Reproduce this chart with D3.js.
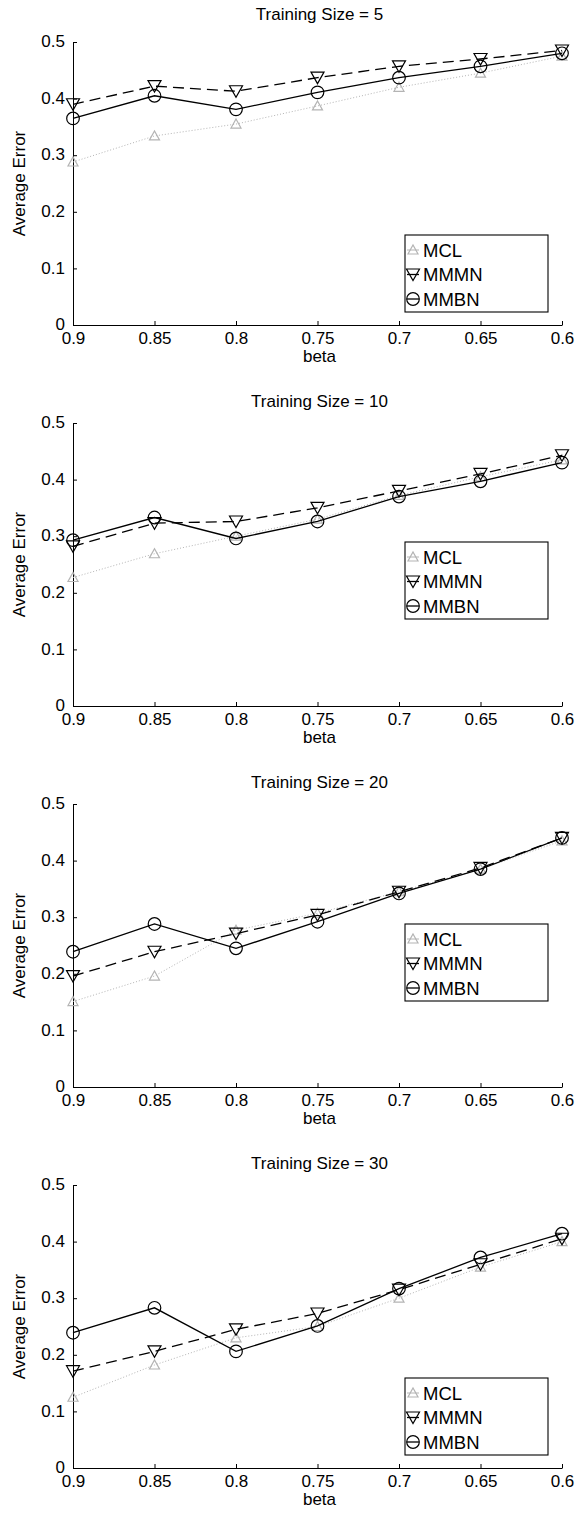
<!DOCTYPE html>
<html>
<head>
<meta charset="utf-8">
<script src="https://cdn.jsdelivr.net/npm/d3@7"></script>
<style>
  body { margin: 0; background: #fff; }
  text { font-family: "Liberation Sans", Arial, Helvetica, sans-serif; fill: #000; }
  .axis path, .axis line { stroke: #000; stroke-width: 1; }
  .axis text { font-size: 17px; }
</style>
</head>
<body>
<script>
// data
var betas = [0.9, 0.85, 0.8, 0.75, 0.7, 0.65, 0.6];
var betaLabels = ["0.9", "0.85", "0.8", "0.75", "0.7", "0.65", "0.6"];
var yTicks = [0, 0.1, 0.2, 0.3, 0.4, 0.5];
var yTickLabels = ["0", "0.1", "0.2", "0.3", "0.4", "0.5"];
var trainingSizes = [5, 10, 20, 30];
var seriesNames = ["MCL", "MMMN", "MMBN"];

var mclErr = [
  [0.288, 0.334, 0.355, 0.387, 0.420, 0.445, 0.475],
  [0.227, 0.269, 0.300, 0.330, 0.372, 0.405, 0.435],
  [0.151, 0.196, 0.277, 0.307, 0.345, 0.385, 0.435],
  [0.125, 0.182, 0.230, 0.250, 0.300, 0.355, 0.400]
];
var mmmnErr = [
  [0.390, 0.422, 0.413, 0.437, 0.457, 0.470, 0.485],
  [0.282, 0.323, 0.326, 0.350, 0.380, 0.410, 0.443],
  [0.196, 0.239, 0.271, 0.304, 0.345, 0.387, 0.440],
  [0.171, 0.206, 0.245, 0.273, 0.315, 0.360, 0.405]
];
var mmbnErr = [
  [0.365, 0.405, 0.381, 0.411, 0.437, 0.457, 0.480],
  [0.293, 0.333, 0.296, 0.326, 0.370, 0.397, 0.430],
  [0.239, 0.288, 0.245, 0.292, 0.342, 0.385, 0.440],
  [0.239, 0.283, 0.206, 0.251, 0.317, 0.372, 0.414]
];

//
// layout
//
var W = 577, H = 1514;
var left = 73, right = 562;
var plotH = 283;
var panelStep = 381;
var firstTop = 42;
var legendTopPx = [193, 119, 120, 193];
var titleGapPx = [22, 16, 16, 16];

var seriesStyle = [
  { stroke: "#b4b4b4", dash: "1,2", marker: "up", width: 1 },
  { stroke: "#000", dash: "11,6", marker: "down", width: 1.3 },
  { stroke: "#000", dash: null, marker: "circle", width: 1.3 }
];

var svg = d3.select("body")
  .append("svg")
  .attr("width", W)
  .attr("height", H)
  ;

var x = d3.scaleLinear().domain([0.9, 0.6]).range([left, right]);

drawMarker = function(g, type, color) {
  if (type === "circle") {
    return g.append("circle")
      .attr("r", 6.3)
      .attr("fill", "none")
      .attr("stroke", color)
      .attr("stroke-width", 1.2);
  }
  var d = type === "down" ? "M-6.5,-5.5L6.5,-5.5L0,6Z" : "M-5,4L5,4L0,-5Z";
  return g.append("path")
    .attr("d", d)
    .attr("fill", "none")
    .attr("stroke", color)
    .attr("stroke-width", 1.2);
}

drawPanel = function(i) {
  var top = firstTop + i * panelStep;
  var bottom = top + plotH;
  var y = d3.scaleLinear().domain([0, 0.5]).range([bottom, top]);
  var g = svg.append("g").attr("class", "panel");

  // title
  g.append("text")
    .attr("x", (left + right) / 2 + 2)
    .attr("y", top - titleGapPx[i])
    .attr("text-anchor", "middle")
    .attr("font-size", 17)
    .text("Training Size = " + trainingSizes[i])
    ;

  // axes
  g.append("g")
    .attr("class", "axis")
    .attr("transform", "translate(0," + bottom + ")")
    .call(d3.axisBottom(x)
      .tickValues(betas)
      .tickFormat(function(d, k) { return betaLabels[k]; })
      .tickSizeInner(-4)
      .tickSizeOuter(0)
      .tickPadding(7))
    ;
  g.append("g")
    .attr("class", "axis")
    .attr("transform", "translate(" + left + ",0)")
    .call(d3.axisLeft(y)
      .tickValues(yTicks)
      .tickFormat(function(d, k) { return yTickLabels[k]; })
      .tickSizeInner(-4)
      .tickSizeOuter(0)
      .tickPadding(8))
    .selectAll("text")
    .attr("dy", "0.28em")
    ;
  g.selectAll(".axis .domain").attr("stroke-width", 1.3);

  // axis labels
  g.append("text")
    .attr("x", (left + right) / 2 + 2)
    .attr("y", bottom + 37)
    .attr("text-anchor", "middle")
    .attr("font-size", 17)
    .text("beta")
    ;
  g.append("text")
    .attr("transform", "translate(25," + ((top + bottom) / 2) + ") rotate(-90)")
    .attr("text-anchor", "middle")
    .attr("font-size", 17)
    .text("Average Error")
    ;

  // series
  var all = [mclErr[i], mmmnErr[i], mmbnErr[i]];
  var line = d3.line()
    .x(function(d, k) { return x(betas[k]); })
    .y(function(d) { return y(d); })
    ;
  all.forEach(function(vals, s) {
    var st = seriesStyle[s];
    g.append("path")
      .datum(vals)
      .attr("d", line)
      .attr("fill", "none")
      .attr("stroke", st.stroke)
      .attr("stroke-width", st.width)
      .attr("stroke-dasharray", st.dash)
      ;
    vals.forEach(function(v, k) {
      var m = g.append("g")
        .attr("transform", "translate(" + x(betas[k]) + "," + y(v) + ")");
      drawMarker(m, st.marker, st.stroke);
    });
  });

  // legend
  var lx = 405, lw = 143, lh = 77;
  var ly = top + legendTopPx[i];
  var leg = g.append("g").attr("class", "legend");
  leg.append("rect")
    .attr("x", lx)
    .attr("y", ly)
    .attr("width", lw)
    .attr("height", lh)
    .attr("fill", "#fff")
    .attr("stroke", "#000")
    .attr("stroke-width", 1.1)
    ;
  seriesNames.forEach(function(name, s) {
    var st = seriesStyle[s];
    var ry = ly + 15 + s * 24.5;
    leg.append("line")
      .attr("x1", lx + 2)
      .attr("x2", lx + 14)
      .attr("y1", ry)
      .attr("y2", ry)
      .attr("stroke", st.stroke)
      .attr("stroke-width", st.width)
      ;
    var m = leg.append("g").attr("transform", "translate(" + (lx + 8) + "," + ry + ")");
    drawMarker(m, st.marker, st.stroke);
    leg.append("text")
      .attr("x", lx + 18)
      .attr("y", ry + 6.5)
      .attr("font-size", 18.5)
      .text(name)
      ;
  });
}

for (var i = 0; i < trainingSizes.length; i++) {
  drawPanel(i);
}
</script>
</body>
</html>
